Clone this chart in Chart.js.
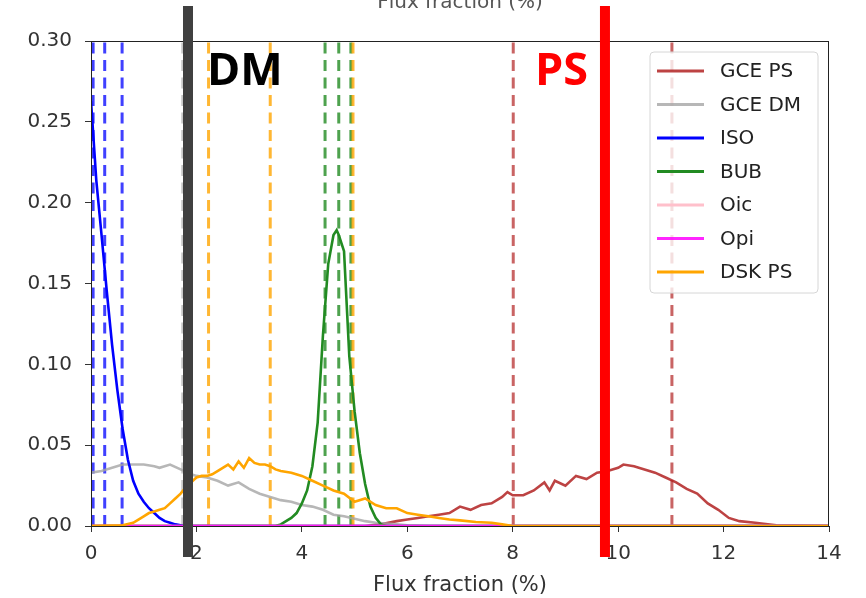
<!DOCTYPE html>
<html>
<head>
<meta charset="utf-8">
<script src="https://cdn.jsdelivr.net/npm/chart.js@4.4.0/dist/chart.umd.min.js"></script>
<style>
  html, body { margin: 0; padding: 0; background: #fff; }
  #wrap { width: 866px; height: 598px; }
</style>
</head>
<body>
<div id="wrap"><canvas id="fluxChart" width="866" height="598"></canvas></div>
<script>
// Posterior of flux fraction (%) per template

// GCE PS
const gcePsX = [0, 5.2, 5.5, 5.8, 6.0, 6.2, 6.4, 6.6, 6.8, 7.0, 7.2, 7.4, 7.6, 7.8, 7.9, 8.0, 8.2, 8.4, 8.6, 8.7, 8.8, 9.0, 9.2, 9.4, 9.6, 9.8, 10.0, 10.1, 10.3, 10.5, 10.7, 10.9, 11.1, 11.3, 11.5, 11.7, 11.9, 12.1, 12.3, 12.6, 13.0, 14];
const gcePsY = [0, 0, 0.001, 0.003, 0.004, 0.005, 0.006, 0.007, 0.008, 0.012, 0.010, 0.013, 0.014, 0.018, 0.021, 0.019, 0.019, 0.022, 0.027, 0.022, 0.028, 0.025, 0.031, 0.029, 0.033, 0.034, 0.036, 0.038, 0.037, 0.035, 0.033, 0.030, 0.027, 0.023, 0.020, 0.014, 0.010, 0.005, 0.003, 0.002, 0.0005, 0];

// GCE DM
const gceDmX = [0, 0.2, 0.4, 0.6, 0.8, 1.0, 1.2, 1.3, 1.5, 1.7, 1.9, 2.0, 2.2, 2.4, 2.6, 2.8, 3.0, 3.2, 3.4, 3.6, 3.8, 4.0, 4.2, 4.4, 4.6, 4.8, 5.0, 5.2, 5.4, 5.6, 5.8, 6.0, 6.4, 14];
const gceDmY = [0.033, 0.034, 0.036, 0.038, 0.038, 0.038, 0.037, 0.036, 0.038, 0.035, 0.032, 0.031, 0.030, 0.028, 0.025, 0.027, 0.023, 0.020, 0.018, 0.016, 0.015, 0.013, 0.012, 0.010, 0.007, 0.006, 0.0045, 0.003, 0.002, 0.0015, 0.001, 0.0005, 0, 0];

// ISO
const isoX = [0, 0.1, 0.2, 0.3, 0.4, 0.5, 0.6, 0.7, 0.8, 0.9, 1.0, 1.1, 1.2, 1.3, 1.4, 1.5, 1.6, 1.7, 1.8, 14];
const isoY = [0.263, 0.214, 0.180, 0.145, 0.112, 0.084, 0.060, 0.041, 0.028, 0.020, 0.015, 0.011, 0.008, 0.005, 0.003, 0.002, 0.001, 0.0005, 0, 0];

// BUB
const bubX = [0, 3.5, 3.6, 3.7, 3.8, 3.9, 4.0, 4.1, 4.2, 4.3, 4.4, 4.5, 4.6, 4.66, 4.7, 4.8, 4.9, 5.0, 5.1, 5.2, 5.3, 5.4, 5.5, 5.6, 14];
const bubY = [0, 0, 0.001, 0.003, 0.005, 0.008, 0.014, 0.022, 0.037, 0.064, 0.118, 0.162, 0.180, 0.183, 0.180, 0.170, 0.105, 0.071, 0.045, 0.026, 0.012, 0.005, 0.001, 0, 0];

// Oic / Opi (flat at zero)
const oicX = [0, 14];
const oicY = [0, 0];
const opiX = [0, 14];
const opiY = [0, 0];

// DSK PS
const dskX = [0, 0.6, 0.8, 0.9, 1.0, 1.1, 1.2, 1.3, 1.4, 1.5, 1.6, 1.7, 1.8, 1.9, 2.0, 2.1, 2.2, 2.3, 2.4, 2.5, 2.6, 2.7, 2.8, 2.9, 3.0, 3.1, 3.2, 3.3, 3.4, 3.5, 3.6, 3.8, 4.0, 4.2, 4.4, 4.6, 4.8, 5.0, 5.2, 5.4, 5.6, 5.8, 6.0, 6.2, 6.4, 6.6, 6.8, 7.0, 7.3, 7.6, 7.8, 8.0, 14];
const dskY = [0, 0.0005, 0.002, 0.004, 0.006, 0.008, 0.009, 0.010, 0.011, 0.014, 0.017, 0.020, 0.024, 0.027, 0.030, 0.031, 0.031, 0.032, 0.034, 0.036, 0.038, 0.035, 0.040, 0.036, 0.042, 0.039, 0.038, 0.038, 0.037, 0.035, 0.034, 0.033, 0.031, 0.028, 0.025, 0.022, 0.020, 0.015, 0.017, 0.013, 0.011, 0.011, 0.008, 0.007, 0.006, 0.005, 0.004, 0.0035, 0.0025, 0.002, 0.001, 0, 0];

// dashed percentile markers
const isoLines = [0.04, 0.26, 0.59];
const gceDmLines = [1.74];
const dskLines = [2.23, 3.40, 4.97];
const bubLines = [4.44, 4.70, 4.93];
const gcePsLines = [8.01, 11.02];

// axis ticks
const xTicks = [0, 2, 4, 6, 8, 10, 12, 14];
const yTicks = [0, 0.05, 0.10, 0.15, 0.20, 0.25, 0.30];

// highlighted cut positions
const dmCut = 1.84;
const psCut = 9.75;

const FONT = 'DejaVu Sans';

function toPoints(xs, ys) {
    const n = Math.min(xs.length, ys.length);
    const pts = [];
    for (let i = 0; i < n; i++) pts.push({ x: xs[i], y: ys[i] });
    return pts;
}

function curve(label, xs, ys, color, rank) {
    return {
        label: label,
        inLegend: true,
        rank: rank,
        data: toPoints(xs, ys),
        borderColor: color,
        borderWidth: 2.6,
        pointRadius: 0,
        tension: 0,
        fill: false
    };
}

function vlines(values, color) {
    const yMin = yTicks[0], yMax = yTicks[yTicks.length - 1];
    return values.map(v => ({
        label: '',
        data: [{ x: v, y: yMin }, { x: v, y: yMax }],
        borderColor: color,
        borderWidth: 3,
        borderDash: [11, 6.5],
        pointRadius: 0,
        fill: false
    }));
}

// legend order
const curves = [
    curve('GCE PS', gcePsX, gcePsY, 'rgba(178,34,34,0.85)', 0),
    curve('GCE DM', gceDmX, gceDmY, 'rgba(165,165,165,0.8)', 1),
    curve('ISO', isoX, isoY, '#0000ff', 2),
    curve('BUB', bubX, bubY, '#228b22', 3),
    curve('Oic', oicX, oicY, '#ffc0cb', 4),
    curve('Opi', opiX, opiY, 'rgba(255,0,255,0.85)', 5),
    curve('DSK PS', dskX, dskY, '#ffa500', 6)
];
const markers = [].concat(
    vlines(isoLines, 'rgba(0,0,255,0.75)'),
    vlines(gceDmLines, 'rgba(165,165,165,0.6)'),
    vlines(dskLines, 'rgba(255,165,0,0.8)'),
    vlines(bubLines, 'rgba(34,139,34,0.8)'),
    vlines(gcePsLines, 'rgba(178,34,34,0.7)')
);
// Chart.js paints the first dataset on top, so DSK PS goes first
const datasets = curves.slice().reverse().concat(markers);

// frame, annotations and legend
const decorPlugin = {
    id: 'decor',
    afterDatasetsDraw(chart) {
        const { ctx, chartArea: a } = chart;
        ctx.save();
        ctx.strokeStyle = '#222';
        ctx.lineWidth = 1;
        ctx.strokeRect(a.left + 0.5, a.top + 0.5, a.right - a.left - 1, a.bottom - a.top);
        ctx.restore();
    },
    afterDraw(chart) {
        const { ctx, chartArea: a } = chart;
        const xs = chart.scales.x;

        // cropped title from the panel above
        ctx.save();
        ctx.fillStyle = '#555';
        ctx.font = '20px "' + FONT + '"';
        ctx.textAlign = 'center';
        ctx.textBaseline = 'alphabetic';
        ctx.fillText('Flux fraction (%)', (a.left + a.right) / 2, 8);
        ctx.restore();

        // legend
        const items = chart.data.datasets.filter(d => d.inLegend).sort((p, q) => p.rank - q.rank);
        const boxL = a.right - 179, boxT = a.top + 11, boxW = 168, boxH = 241;
        ctx.save();
        ctx.beginPath();
        ctx.roundRect(boxL, boxT, boxW, boxH, 4);
        ctx.fillStyle = 'rgba(255,255,255,0.8)';
        ctx.fill();
        ctx.strokeStyle = '#d6d6d6';
        ctx.lineWidth = 1;
        ctx.stroke();
        ctx.font = '20px "' + FONT + '"';
        ctx.textBaseline = 'middle';
        ctx.textAlign = 'left';
        items.forEach((d, i) => {
            const y = boxT + 19 + i * 33.5;
            ctx.beginPath();
            ctx.moveTo(boxL + 7, y);
            ctx.lineTo(boxL + 54, y);
            ctx.strokeStyle = d.borderColor;
            ctx.lineWidth = 3;
            ctx.stroke();
            ctx.fillStyle = '#222';
            ctx.fillText(d.label, boxL + 70, y + 1);
        });
        ctx.restore();

        // thick cut bars
        const barTop = a.top - 35, barBot = a.bottom + 31;
        ctx.save();
        ctx.fillStyle = '#404040';
        ctx.fillRect(xs.getPixelForValue(dmCut) - 5, barTop, 10, barBot - barTop);
        ctx.fillStyle = '#ff0000';
        ctx.fillRect(xs.getPixelForValue(psCut) - 5, barTop, 10, barBot - barTop);

        ctx.font = 'bold 45px "Open Sans"';
        ctx.textBaseline = 'alphabetic';
        ctx.fillStyle = '#000';
        ctx.textAlign = 'left';
        ctx.fillText('DM', xs.getPixelForValue(dmCut) + 19, a.top + 44);
        ctx.fillStyle = '#ff0000';
        ctx.textAlign = 'right';
        ctx.fillText('PS', xs.getPixelForValue(psCut) - 17, a.top + 44);
        ctx.restore();
    }
};

new Chart(document.getElementById('fluxChart'), {
    type: 'line',
    data: { datasets: datasets },
    options: {
        responsive: false,
        animation: false,
        layout: { padding: { left: 0, right: 37, top: 41, bottom: 0 } },
        plugins: {
            legend: { display: false },
            tooltip: { enabled: false }
        },
        scales: {
            x: {
                type: 'linear',
                min: xTicks[0],
                max: xTicks[xTicks.length - 1],
                afterBuildTicks: s => { s.ticks = xTicks.map(v => ({ value: v })); },
                afterFit: s => { s.height = 72; },
                ticks: {
                    font: { family: FONT, size: 20 },
                    color: '#333',
                    padding: 10,
                    maxRotation: 0,
                    callback: v => String(v)
                },
                grid: { display: true, drawOnChartArea: false, drawTicks: true, tickLength: 6, color: '#333' },
                border: { display: true, color: '#222' },
                title: {
                    display: true,
                    text: 'Flux fraction (%)',
                    font: { family: FONT, size: 21 },
                    color: '#333',
                    padding: { top: 0, bottom: 0 }
                }
            },
            y: {
                type: 'linear',
                min: yTicks[0],
                max: yTicks[yTicks.length - 1],
                afterBuildTicks: s => { s.ticks = yTicks.map(v => ({ value: v })); },
                afterFit: s => { s.width = 91; },
                ticks: {
                    font: { family: FONT, size: 20 },
                    color: '#333',
                    padding: 13,
                    callback: v => v.toFixed(2)
                },
                grid: { display: true, drawOnChartArea: false, drawTicks: true, tickLength: 6, color: '#333' },
                border: { display: true, color: '#222' }
            }
        }
    },
    plugins: [decorPlugin]
});
</script>
</body>
</html>
